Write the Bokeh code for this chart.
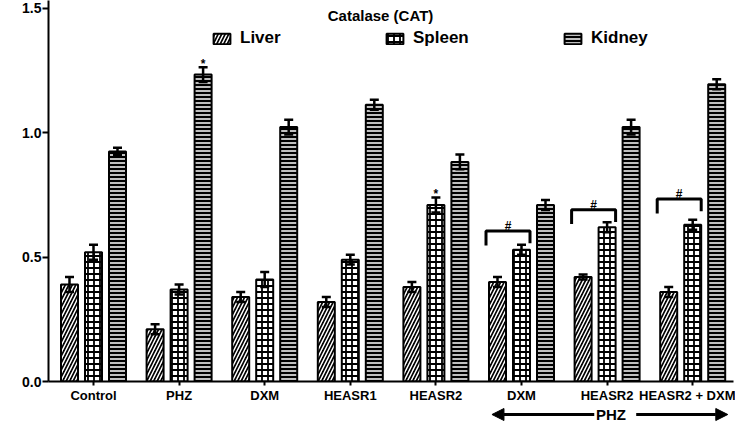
import math
from bokeh.plotting import figure
from bokeh.layouts import column
from bokeh.models import (ColumnDataSource, Whisker, TeeHead, Label, Arrow, NormalHead,
                          FixedTicker, PrintfTickFormatter, Legend, LegendItem, Range1d)
from bokeh.embed import file_html
from bokeh.resources import INLINE
from bokeh.core.properties import value

# ---------------- data ----------------
groups = ["Control", "PHZ", "DXM", "HEASR1", "HEASR2", "DXM", "HEASR2", "HEASR2 + DXM"]
series = ["Liver", "Spleen", "Kidney"]
liver = [0.39, 0.21, 0.34, 0.32, 0.38, 0.40, 0.42, 0.36]
liver_err = [0.03, 0.02, 0.02, 0.02, 0.02, 0.02, 0.01, 0.02]
spleen = [0.52, 0.37, 0.41, 0.49, 0.71, 0.53, 0.62, 0.63]
spleen_err = [0.03, 0.02, 0.03, 0.02, 0.03, 0.02, 0.02, 0.02]
kidney = [0.925, 1.234, 1.023, 1.113, 0.883, 0.71, 1.023, 1.195]
kidney_err = [0.015, 0.03, 0.03, 0.02, 0.03, 0.02, 0.03, 0.02]
star_marks = [("Kidney", 1), ("Spleen", 4)]
bracket_groups = [5, 6, 7]
bracket_tops = [0.605, 0.691, 0.734]
bracket_drop = 0.058
bracket_label = "#"
arrow_label = "PHZ"
title_text = "Catalase (CAT)"
y_label = "Concentration (µmol/ml/min/mg protein)"
y_ticks = [0.0, 0.5, 1.0, 1.5]

# ---------------- layout ----------------
FONT = "Liberation Sans"
W = 735
PX = 85.6                 # pixels per group
BAR_W = 17 / PX
OFF = 24 / PX
LEFT, RIGHT = 48, 2
X0 = -45 / PX
X1 = X0 + (W - LEFT - RIGHT) / PX
FRAME_H = 385
YPX = 251.3
Y1 = FRAME_H / YPX
H1 = 405
H2 = 423 - H1

p = figure(width=W, height=H1, x_range=Range1d(X0, X1), y_range=Range1d(0, Y1),
           output_backend="svg", toolbar_location=None, title=None,
           min_border_left=LEFT, min_border_right=RIGHT, min_border_top=0,
           min_border_bottom=H1 - FRAME_H)
p.outline_line_color = None
p.xgrid.visible = False
p.ygrid.visible = False

styles = {
    "Liver": dict(fill_color="black", hatch_pattern="/", hatch_color="white",
                  hatch_scale=7, hatch_weight=1.5),
    "Spleen": dict(fill_color="white", hatch_pattern="+", hatch_color="black",
                   hatch_scale=6, hatch_weight=1.8),
    "Kidney": dict(fill_color="black", hatch_pattern="-", hatch_color="white",
                   hatch_scale=4, hatch_weight=1.5),
}
vals = {"Liver": (liver, liver_err), "Spleen": (spleen, spleen_err), "Kidney": (kidney, kidney_err)}
offsets = {"Liver": -OFF, "Spleen": 0.0, "Kidney": OFF}

renderers = {}
for name in series:
    v, e = vals[name]
    xs = [i + offsets[name] for i in range(len(groups))]
    src = ColumnDataSource(dict(x=xs, top=v, upper=[a + b for a, b in zip(v, e)],
                                lower=[a - b for a, b in zip(v, e)]))
    r = p.vbar(x="x", top="top", bottom=0, width=BAR_W, source=src,
               line_color="black", line_width=2, **styles[name])
    renderers[name] = r
    w = Whisker(source=src, base="x", upper="upper", lower="lower",
                line_color="black", line_width=2.5, level="overlay",
                upper_head=TeeHead(size=9, line_width=2.5, line_color="black"),
                lower_head=TeeHead(size=9, line_width=2.5, line_color="black"))
    p.add_layout(w)

# significance stars
sx, sy = [], []
for name, gi in star_marks:
    v, e = vals[name]
    sx.append(gi + offsets[name])
    sy.append(v[gi] + e[gi] + 0.014)
p.text(x=sx, y=sy, text=["*"] * len(sx), text_align="center", text_baseline="alphabetic",
       text_font=value(FONT), text_font_style="bold", text_font_size="12px", text_color="black")

# brackets with '#'
bxs, bys, hx, hy = [], [], [], []
for gi, top in zip(bracket_groups, bracket_tops):
    left = gi - OFF - BAR_W / 2 - 0.035
    right = gi + BAR_W / 2
    bxs.append([left, left, right, right])
    bys.append([top - bracket_drop, top, top, top - bracket_drop * 0.85])
    hx.append((left + right) / 2)
    hy.append(top + 0.02)
p.multi_line(xs=bxs, ys=bys, line_color="black", line_width=3)
p.text(x=hx, y=hy, text=[bracket_label] * len(hx), text_align="center", text_baseline="alphabetic",
       text_font=value(FONT), text_font_style="bold", text_font_size="12px", text_color="black")

# axes
p.yaxis.ticker = FixedTicker(ticks=y_ticks)
p.yaxis.formatter = PrintfTickFormatter(format="%.1f")
p.xaxis.ticker = FixedTicker(ticks=list(range(len(groups))))
p.xaxis.major_label_overrides = {i: g for i, g in enumerate(groups)}
for ax in (p.xaxis, p.yaxis):
    ax.axis_line_width = 2
    ax.axis_line_color = "black"
    ax.major_tick_line_width = 2
    ax.major_tick_line_color = "black"
    ax.major_tick_in = 0
    ax.minor_tick_line_color = None
    ax.major_label_text_font = FONT
    ax.major_label_text_font_style = "bold"
    ax.major_label_text_color = "black"
p.yaxis.major_tick_out = 6
p.yaxis.major_label_standoff = 1
p.yaxis.major_label_text_font_size = "14px"
p.xaxis.major_tick_out = 4
p.xaxis.major_label_standoff = 2
p.xaxis.major_label_text_font_size = "13px"

# y label
p.add_layout(Label(x=X0 - 38 / PX, y=0.725, text=y_label, angle=math.pi / 2,
                   text_align="center", text_baseline="middle", text_font=FONT,
                   text_font_style="bold", text_font_size="16px", text_color="black"))

# title
p.add_layout(Label(x=3.353, y=1.472, text=title_text, text_align="center", text_baseline="middle",
                   text_font=FONT, text_font_style="bold", text_font_size="15px", text_color="black"))

# legend (three separately placed entries)
legend_x = [163, 336, 514]
for name, lx in zip(series, legend_x):
    leg = Legend(items=[LegendItem(label=name, renderers=[renderers[name]])],
                 location=(lx, 333), orientation="horizontal",
                 glyph_width=21, glyph_height=13, label_standoff=8, padding=0, margin=0,
                 border_line_color=None, background_fill_alpha=0, label_height=20,
                 label_text_font=FONT, label_text_font_style="bold",
                 label_text_font_size="17px", label_text_color="black")
    p.add_layout(leg)

# ---------------- PHZ arrow strip ----------------
p2 = figure(width=W, height=H2, x_range=p.x_range, y_range=Range1d(0, 1),
            output_backend="svg", toolbar_location=None, title=None,
            min_border_left=LEFT, min_border_right=RIGHT, min_border_top=0, min_border_bottom=0)
p2.axis.visible = False
p2.grid.visible = False
p2.outline_line_color = None
ay = 0.5
p2.add_layout(Arrow(end=NormalHead(size=12, fill_color="black", line_color="black"),
                    x_start=5.85, y_start=ay, x_end=4.655, y_end=ay,
                    line_width=3, line_color="black"))
p2.add_layout(Arrow(end=NormalHead(size=12, fill_color="black", line_color="black"),
                    x_start=6.34, y_start=ay, x_end=7.41, y_end=ay,
                    line_width=3, line_color="black"))
p2.add_layout(Label(x=6.045, y=ay, text=arrow_label, text_align="center",
                    text_baseline="middle",
                    text_font=FONT, text_font_style="bold", text_font_size="15px",
                    text_color="black"))

layout = column(p, p2, spacing=0)
open("out.html", "w").write(file_html(layout, INLINE))
